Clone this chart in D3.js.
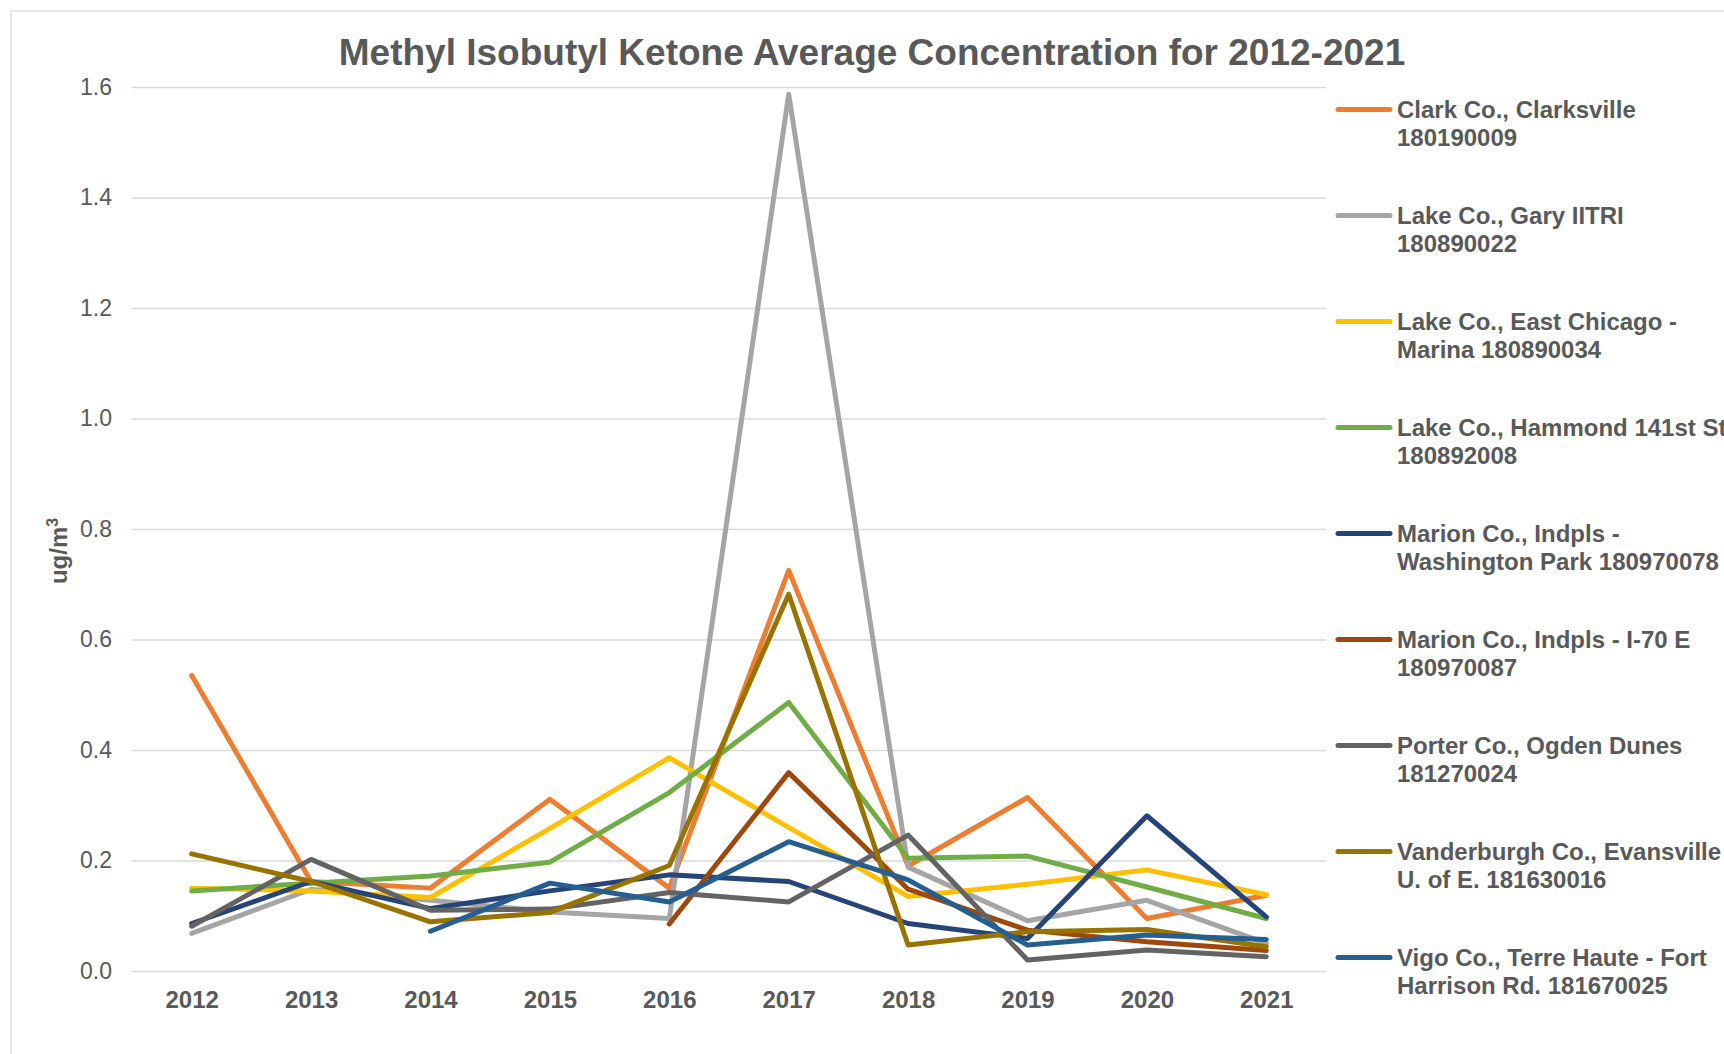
<!DOCTYPE html>
<html>
<head>
<meta charset="utf-8">
<script src="https://cdn.jsdelivr.net/npm/d3@7"></script>
<style>
  html, body { margin: 0; padding: 0; background: #ffffff; }
  svg { display: block; font-family: "Liberation Sans", Arial, sans-serif; }
</style>
</head>
<body>
<svg id="chart" width="1724" height="1054"></svg>
<script>
// ---------- data ----------
const years = [2012, 2013, 2014, 2015, 2016, 2017, 2018, 2019, 2020, 2021];
const yTicks = [0, 0.2, 0.4, 0.6, 0.8, 1.0, 1.2, 1.4, 1.6];

const seriesNames = [
  ["Clark Co., Clarksville", "180190009"],
  ["Lake Co., Gary IITRI", "180890022"],
  ["Lake Co., East Chicago -", "Marina 180890034"],
  ["Lake Co., Hammond 141st St", "180892008"],
  ["Marion Co., Indpls -", "Washington Park 180970078"],
  ["Marion Co., Indpls - I-70 E", "180970087"],
  ["Porter Co., Ogden Dunes", "181270024"],
  ["Vanderburgh Co., Evansville", "U. of E. 181630016"],
  ["Vigo Co., Terre Haute - Fort", "Harrison Rd. 181670025"]
];

const clarkValues       = [0.535, 0.162, 0.150, 0.311, 0.150, 0.725, 0.190, 0.314, 0.095, 0.137];
const garyValues        = [0.068, 0.148, 0.128, 0.107, 0.095, 1.587, 0.188, 0.091, 0.128, 0.050];
const eastChicagoValues = [0.150, 0.145, 0.133, 0.258, 0.386, 0.260, 0.135, 0.157, 0.183, 0.138];
const hammondValues     = [0.145, 0.159, 0.172, 0.197, 0.323, 0.486, 0.204, 0.208, 0.152, 0.095];
const washParkValues    = [0.086, 0.162, 0.113, 0.145, 0.174, 0.162, 0.086, 0.059, 0.281, 0.098];
const i70Values         = [null, null, null, null, 0.085, 0.359, 0.148, 0.074, 0.053, 0.037];
const porterValues      = [0.081, 0.202, 0.110, 0.112, 0.142, 0.125, 0.246, 0.020, 0.038, 0.026];
const vanderburghValues = [0.212, 0.162, 0.089, 0.106, 0.191, 0.682, 0.047, 0.071, 0.075, 0.044];
const vigoValues        = [null, null, 0.072, 0.159, 0.125, 0.234, 0.165, 0.047, 0.065, 0.057];

const seriesColors = ["#ED7D31", "#A5A5A5", "#FFC000", "#70AD47", "#264478",
                      "#9E480E", "#636363", "#997300", "#255E91"];

const allValues = [clarkValues, garyValues, eastChicagoValues, hammondValues, washParkValues,
                   i70Values, porterValues, vanderburghValues, vigoValues];

const series = seriesNames.map((name, i) => ({
  name, color: seriesColors[i],
  values: years.map((yr, j) => ({ year: yr, value: allValues[i][j] }))
}));

// ---------- layout ----------
const textColor = "#595959";
const gridColor = "#D9D9D9";
const plot = { left: 132, right: 1326, top: 87, bottom: 971 };

const svg = d3.select("#chart");

// outer chart border (extends past the window on right and bottom)
svg.append("rect")
  .attr("x", 11).attr("y", 11)
  .attr("width", 1800).attr("height", 1200)
  .attr("fill", "#ffffff")
  .attr("stroke", gridColor).attr("stroke-width", 1.3);

const x = d3.scalePoint().domain(years).range([plot.left, plot.right]).padding(0.5);
const y = d3.scaleLinear().domain([0, 1.6]).range([plot.bottom, plot.top]);

// y axis with gridlines
const yAxis = svg.append("g")
  .attr("transform", `translate(${plot.left},0)`)
  .call(d3.axisLeft(y).tickValues(yTicks).tickFormat(d3.format(".1f"))
        .tickSize(-(plot.right - plot.left)).tickPadding(20));
yAxis.select(".domain").remove();
yAxis.selectAll(".tick line").attr("stroke", gridColor).attr("stroke-width", 1.5);
yAxis.selectAll(".tick text")
  .attr("fill", textColor)
  .style("font-size", "23px")
  .style("font-family", "'Liberation Sans', Arial, sans-serif");

// x axis labels
const xAxis = svg.append("g")
  .attr("transform", `translate(0,${plot.bottom})`)
  .call(d3.axisBottom(x).tickSize(0).tickPadding(20));
xAxis.select(".domain").remove();
xAxis.selectAll(".tick text")
  .attr("fill", textColor)
  .style("font-size", "24px")
  .style("font-weight", "bold")
  .style("font-family", "'Liberation Sans', Arial, sans-serif");

// lines
const line = d3.line()
  .defined(d => d.value !== null)
  .x(d => x(d.year))
  .y(d => y(d.value));

svg.append("g").selectAll("path")
  .data(series)
  .join("path")
  .attr("d", d => line(d.values))
  .attr("fill", "none")
  .attr("stroke", d => d.color)
  .attr("stroke-width", 5)
  .attr("stroke-linejoin", "round")
  .attr("stroke-linecap", "round");

// title
svg.append("text")
  .attr("x", 872).attr("y", 65)
  .attr("text-anchor", "middle")
  .attr("fill", textColor)
  .style("font-size", "37px")
  .style("font-weight", "bold")
  .text("Methyl Isobutyl Ketone Average Concentration for 2012-2021");

// y axis title
const yTitle = svg.append("text")
  .attr("transform", "translate(67,551) rotate(-90)")
  .attr("text-anchor", "middle")
  .attr("fill", textColor)
  .style("font-size", "24px")
  .style("font-weight", "bold");
yTitle.append("tspan").text("ug/m");
yTitle.append("tspan").attr("dy", -9).style("font-size", "16px").text("3");

// legend
const legend = svg.append("g");
const legY0 = 109.5, legStep = 106;
const entries = legend.selectAll("g")
  .data(series)
  .join("g")
  .attr("transform", (d, i) => `translate(0,${legY0 + i * legStep})`);
entries.append("line")
  .attr("x1", 1338).attr("x2", 1390)
  .attr("y1", 0).attr("y2", 0)
  .attr("stroke", d => d.color)
  .attr("stroke-width", 5)
  .attr("stroke-linecap", "round");
const lt = entries.append("text")
  .attr("x", 1397).attr("y", 8.6)
  .attr("fill", textColor)
  .style("font-size", "24px")
  .style("font-weight", "bold");
lt.append("tspan").attr("x", 1397).attr("dy", 0).text(d => d.name[0]);
lt.append("tspan").attr("x", 1397).attr("dy", 27.6).text(d => d.name[1]);
</script>
</body>
</html>
